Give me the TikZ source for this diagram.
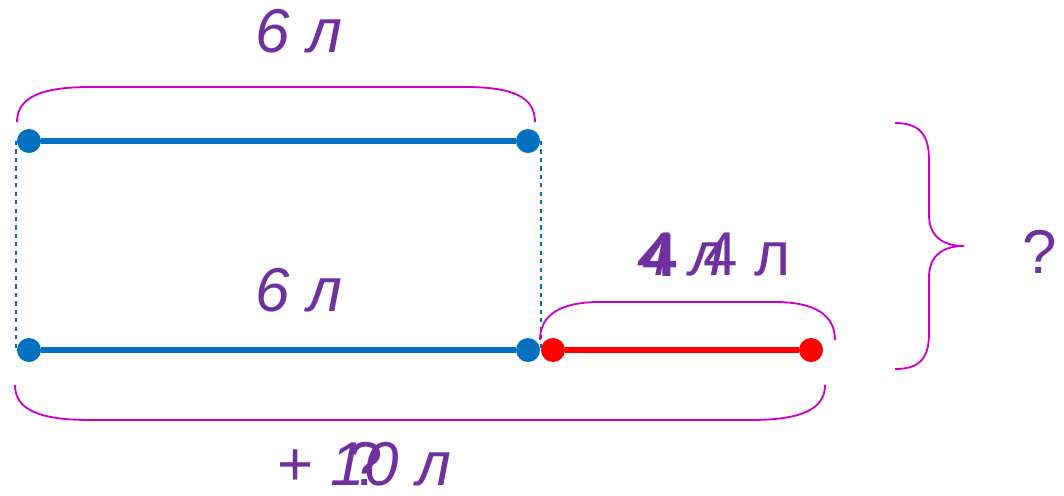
\documentclass[tikz,border=0pt]{standalone}
\usepackage{fontspec}
\setmainfont{Liberation Sans}
\usetikzlibrary{positioning}
\definecolor{segblue}{RGB}{0,112,192}
\definecolor{segred}{RGB}{255,0,0}
\definecolor{bracepink}{RGB}{204,0,204}
\definecolor{textpurple}{RGB}{112,48,160}

\begin{document}
\begin{tikzpicture}[
    x=0.025cm, y=-0.025cm,
    dot/.style={circle, fill=#1, inner sep=0pt, minimum size=0.6cm},
    seg/.style={line width=3.6pt, draw=#1},
    guide/.style={dashed, draw=segblue, line width=0.9pt},
    brace/.style={draw=bracepink, line width=1.3pt},
    lbl/.style={text=textpurple, inner sep=0pt, font=\fontsize{44}{50}\selectfont\itshape},
    plain/.style={text=textpurple, inner sep=0pt, font=\fontsize{44}{50}\selectfont}
]
    \useasboundingbox (0,0) rectangle (1064,495);

    % Guide lines
    \coordinate (gl1) at (16,141);  \coordinate (gl2) at (16,350);
    \coordinate (gr1) at (541,141); \coordinate (gr2) at (541,350);
    \draw[guide] (gl1) -- (gl2);
    \draw[guide] (gr1) -- (gr2);

    % Top segment
    \node[dot=segblue] (topL) at (29,141) {};
    \node[dot=segblue] (topR) at (528,141) {};
    \draw[seg=segblue] (topL) -- (topR);

    % Bottom segment
    \node[dot=segblue] (botL) at (29,350) {};
    \node[dot=segblue] (botM) at (528,350) {};
    \draw[seg=segblue] (botL) -- (botM);
    \node[dot=segred] (redL) at (553,350) {};
    \node[dot=segred] (redR) at (811,350) {};
    \draw[seg=segred] (redL) -- (redR);

    % Braces
    \draw[brace] (17,122) .. controls (17,97) and (42,87) .. (90,87) -- (465,87)
        .. controls (513,87) and (535,97) .. (535,122);
    \draw[brace] (540,340) .. controls (540,315) and (560,302) .. (600,302) -- (775,302)
        .. controls (815,302) and (835,315) .. (835,340);
    \draw[brace] (15,385) .. controls (15,410) and (40,420) .. (90,420) -- (750,420)
        .. controls (800,420) and (825,410) .. (825,385);
    \draw[brace] (895,123) .. controls (920,123) and (929,135) .. (929,160) -- (929,215)
        .. controls (929,238) and (945,246) .. (964,246)
        .. controls (945,246) and (929,254) .. (929,277) -- (929,333)
        .. controls (929,358) and (920,369) .. (895,369);

    % Labels
    \node[lbl] (topval) at (299,31) {6 л};
    \node[lbl] (midval) at (299,290) {6 л};
    \node[plain, font=\fontsize{44}{50}\selectfont\bfseries] (redbold) at (660,255) {4};
    \node[lbl] (redval) at (681,255) {4 л};
    \node[plain] (redval2) at (747,255) {4 л};
    \node[plain] (plusq) at (330,464) {+~~?};
    \node[lbl] (sumval) at (391,464) {10 л};
    \node[plain] (total) at (1040,252) {?};
\end{tikzpicture}
\end{document}
